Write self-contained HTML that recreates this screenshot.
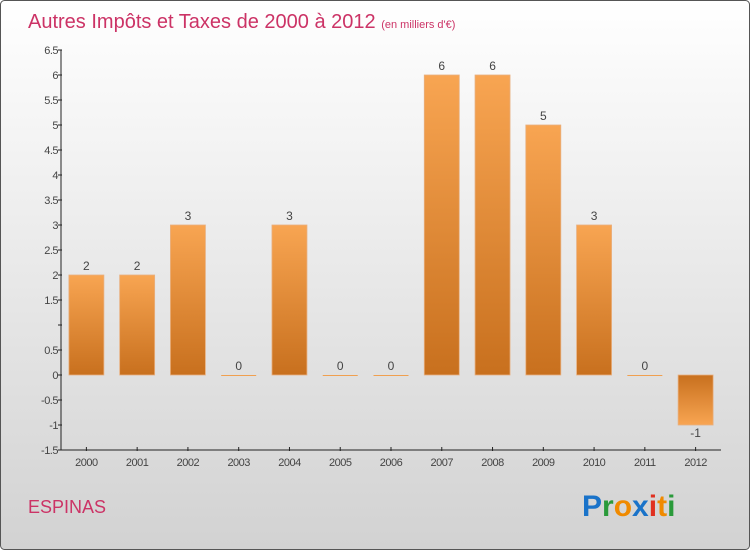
<!DOCTYPE html>
<html><head><meta charset="utf-8"><style>
body{margin:0;}
svg{display:block;font-family:"Liberation Sans",sans-serif;}
</style></head><body>
<svg id="c" width="750" height="550" xmlns="http://www.w3.org/2000/svg">
<defs>
<linearGradient id="bg" x1="0" y1="0" x2="0" y2="1"><stop offset="0" stop-color="#ffffff"/><stop offset="1" stop-color="#d2d2d2"/></linearGradient>
<linearGradient id="bp" x1="0" y1="0" x2="0" y2="1"><stop offset="0" stop-color="#f8a552"/><stop offset="1" stop-color="#c8701e"/></linearGradient>
<linearGradient id="bn" x1="0" y1="0" x2="0" y2="1"><stop offset="0" stop-color="#c8701e"/><stop offset="1" stop-color="#f8a552"/></linearGradient>
</defs>
<rect x="0.5" y="0.5" width="749" height="549" rx="4" fill="url(#bg)" stroke="#555"/>
<text x="28" y="28" font-size="20" fill="#cc3366">Autres Impôts et Taxes de 2000 à 2012 <tspan font-size="11">(en milliers d'€)</tspan></text>
<text x="28" y="513" font-size="18" fill="#cc3366">ESPINAS</text>
<g font-size="30" font-weight="bold" font-family="'Liberation Sans',sans-serif">
<text x="582" y="516"><tspan fill="#1a73c9">P</tspan><tspan fill="#2a9a3a">r</tspan><tspan fill="#f08a00">o</tspan><tspan fill="#1a73c9">x</tspan><tspan fill="#e03020">i</tspan><tspan fill="#f08a00">t</tspan><tspan fill="#2a9a3a">i</tspan></text>
</g>
<g id="axes"></g>
<g id="bars"></g>
</svg>
<script>
const categories=["2000","2001","2002","2003","2004","2005","2006","2007","2008","2009","2010","2011","2012"];
const values=[2,2,3,0,3,0,0,6,6,5,3,0,-1];
const valueLabels=["2","2","3","0","3","0","0","6","6","5","3","0","-1"];
const yTicks=[6.5,6,5.5,5,4.5,4,3.5,3,2.5,2,1.5,1,0.5,0,-0.5,-1,-1.5];
const yTickLabels=["6.5","6","5.5","5","4.5","4","3.5","3","2.5","2","1.5","","0.5","0","-0.5","-1","-1.5"];
const NS="http://www.w3.org/2000/svg";
const x0=61,x1=721,yMin=-1.5,yMax=6.5,yTop=50,yBot=450;
const y=v=>yBot-(v-yMin)/(yMax-yMin)*(yBot-yTop);
const step=(x1-x0)/categories.length;
const xc=i=>x0+step*(i+0.5);
function mk(tag,attrs,parent){const e=document.createElementNS(NS,tag);for(const k in attrs)e.setAttribute(k,attrs[k]);parent.appendChild(e);return e;}
const ax=document.getElementById('axes'),bars=document.getElementById('bars');
let l=mk('line',{x1:x0,y1:yTop,x2:x0,y2:yBot,stroke:'#222'},ax);


l=mk('line',{x1:x0,y1:yBot,x2:x1,y2:yBot,stroke:'#222'},ax);


yTicks.forEach((v,i)=>{
 const t=mk('line',{x1:x0-3,y1:y(v),x2:x0+1,y2:y(v),stroke:'#222'},ax);
 
 
 const tx=mk('text',{x:x0-3,y:y(v)+4,'text-anchor':'end','font-size':11,fill:'#444','letter-spacing':'-0.5'},ax);
 tx.textContent=yTickLabels[i];
 
 
});
categories.forEach((c,i)=>{
 const t=mk('line',{x1:xc(i),y1:yBot-3,x2:xc(i),y2:yBot+1,stroke:'#222'},ax);
 
 
 const tx=mk('text',{x:xc(i),y:yBot+16,'text-anchor':'middle','font-size':11,fill:'#444','letter-spacing':'-0.5'},ax);
 tx.textContent=c;
 
 
 const v=values[i],bw=35;
 const top=Math.min(y(v),y(0)),h=Math.max(Math.abs(y(v)-y(0)),1);
 const r=mk('rect',{x:xc(i)-bw/2,y:top,width:bw,height:h,fill:v<0?'url(#bn)':(v==0?'#f0a050':'url(#bp)'),stroke:v==0?'none':'#e8b080','stroke-width':0.8},bars);
 
 
 const lb=mk('text',{x:xc(i),y:v<0?y(v)+12:y(v)-5,'text-anchor':'middle','font-size':12,fill:'#444'},bars);
 lb.textContent=valueLabels[i];
 
 
});
</script>
</body></html>
